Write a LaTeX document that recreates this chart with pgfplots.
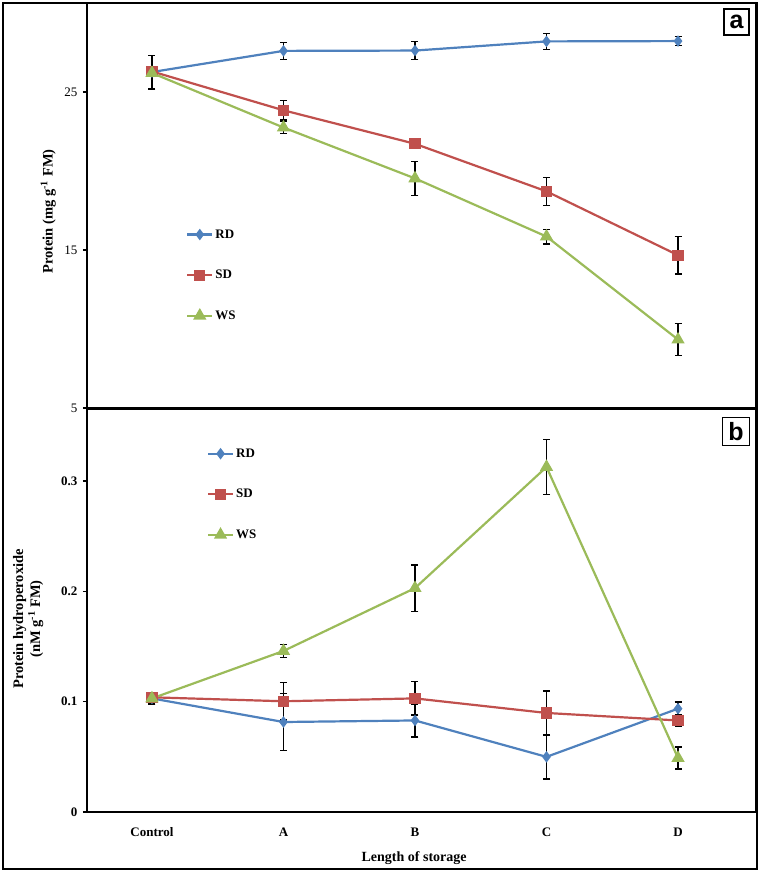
\documentclass[border=0pt]{standalone}
\usepackage{fontspec}
\setmainfont{Liberation Serif}
\newfontfamily\sansfont{Liberation Sans}
\usepackage{pgfplots}
\pgfplotsset{compat=1.18}
\definecolor{cRD}{HTML}{4F81BD}
\definecolor{cSD}{HTML}{C0504D}
\definecolor{cWS}{HTML}{9BBB59}
\pgfplotsset{
  panel/.style={
    scale only axis, width=669pt,
    xmin=-0.494, xmax=4.593,
    axis line style={line width=2.5pt},
    tick align=outside, major tick length=4pt,
    ytick pos=left, xtick pos=bottom,
    every tick/.style={black, line width=1.5pt},
    tick label style={font=\fontsize{13}{15}\selectfont},
    /pgf/number format/assume math mode=true,
    legend style={draw=none, fill=none, inner sep=0pt, row sep=26.5pt,
      font=\fontsize{13}{15}\selectfont\bfseries, cells={anchor=west}},
    legend image code/.code={\draw[mark repeat=2,mark phase=2] plot coordinates {(0pt,0pt) (12.5pt,0pt) (25pt,0pt)};},
  },
  eb/.style={error bars/y dir=both, error bars/y explicit,
    error bars/error bar style={black, line width=1.2pt},
    error bars/error mark options={black, rotate=90, mark size=3.5pt, line width=1.2pt}},
  rd/.style={cRD, line width=2.2pt, mark=diamond*, mark size=4pt, mark options={solid}, eb},
  sd/.style={cSD, line width=2.2pt, mark=square*, mark size=4.5pt, mark options={solid}, eb},
  ws/.style={cWS, line width=2.2pt, mark=triangle*, mark size=5.5pt, mark options={solid}, eb},
}
\begin{document}
\begin{tikzpicture}
\path (-87pt,-463pt) rectangle (674pt,408pt);
\begin{axis}[panel, name=top, at={(0pt,0pt)}, anchor=south west,
  height=405pt, ymin=5, ymax=30.63, ytick={5,15,25}, xtick=\empty,
  yticklabel style={xshift=-2pt},
  ylabel={Protein (mg g\textsuperscript{-1} FM)},
  ylabel style={font=\fontsize{14.5}{17}\selectfont\bfseries, at={(axis description cs:-0.058,0.485)}, anchor=center},
  legend style={at={(axis description cs:0.148,0.446)}, anchor=north west}]
\addplot[rd] coordinates {(0,26.26) +- (0,1.07) (1,27.6) +- (0,0.54) (2,27.62) +- (0,0.55) (3,28.2) +- (0,0.5) (4,28.22) +- (0,0.3)};
\addlegendentry{RD}
\addplot[sd] coordinates {(0,26.3) +- (0,0) (1,23.84) +- (0,0.62) (2,21.72) +- (0,0.2) (3,18.71) +- (0,0.87) (4,14.67) +- (0,1.19)};
\addlegendentry{SD}
\addplot[ws] coordinates {(0,26.2) +- (0,0) (1,22.75) +- (0,0.4) (2,19.53) +- (0,1.07) (3,15.85) +- (0,0.47) (4,9.33) +- (0,1.0)};
\addlegendentry{WS}
\node[draw, line width=1.5pt, inner sep=0pt, minimum width=25pt, minimum height=26pt, font=\sansfont\bfseries\fontsize{25}{25}\selectfont] at (axis description cs:0.971,0.953) {a};
\end{axis}
\begin{axis}[panel, name=bot, at={(0pt,-1pt)}, anchor=north west,
  height=403pt, ymin=0, ymax=0.3654, ytick={0,0.1,0.2,0.3},
  yticklabel style={font=\fontsize{13}{15}\selectfont\bfseries, xshift=-2pt,
    /pgf/number format/.cd, fixed, precision=1},
  xtick={0,1,2,3,4}, xticklabels={Control,A,B,C,D},
  xtick style={draw=none},
  xticklabel style={font=\fontsize{13}{15}\selectfont\bfseries, yshift=-8pt},
  xlabel={Length of storage},
  xlabel style={font=\fontsize{14}{16}\selectfont\bfseries, at={(axis description cs:0.489,-0.114)}, anchor=center},
  ylabel={Protein hydroperoxide\\(nM g\textsuperscript{-1} FM)},
  ylabel style={font=\fontsize{14.5}{17}\selectfont\bfseries, align=center, at={(axis description cs:-0.088,0.479)}, anchor=center},
  legend style={at={(axis description cs:0.179,0.907)}, anchor=north west}]
\addplot[rd] coordinates {(0,0.103) +- (0,0.005) (1,0.0816) +- (0,0.026) (2,0.083) +- (0,0.015) (3,0.050) +- (0,0.02) (4,0.0937) +- (0,0.006)};
\addlegendentry{RD}
\addplot[sd] coordinates {(0,0.104) +- (0,0.003) (1,0.1004) +- (0,0.017) (2,0.103) +- (0,0.015) (3,0.0898) +- (0,0.02) (4,0.083) +- (0,0.005)};
\addlegendentry{SD}
\addplot[ws] coordinates {(0,0.103) +- (0,0.005) (1,0.146) +- (0,0.006) (2,0.203) +- (0,0.021) (3,0.3128) +- (0,0.025) (4,0.049) +- (0,0.01)};
\addlegendentry{WS}
\node[draw, line width=1.5pt, inner sep=0pt, minimum width=27pt, minimum height=28pt, font=\sansfont\bfseries\fontsize{25}{25}\selectfont] at (axis description cs:0.970,0.944) {b};
\end{axis}
\draw[line width=2.5pt] (-84pt,-461pt) rectangle (670pt,405pt);
\end{tikzpicture}
\end{document}
